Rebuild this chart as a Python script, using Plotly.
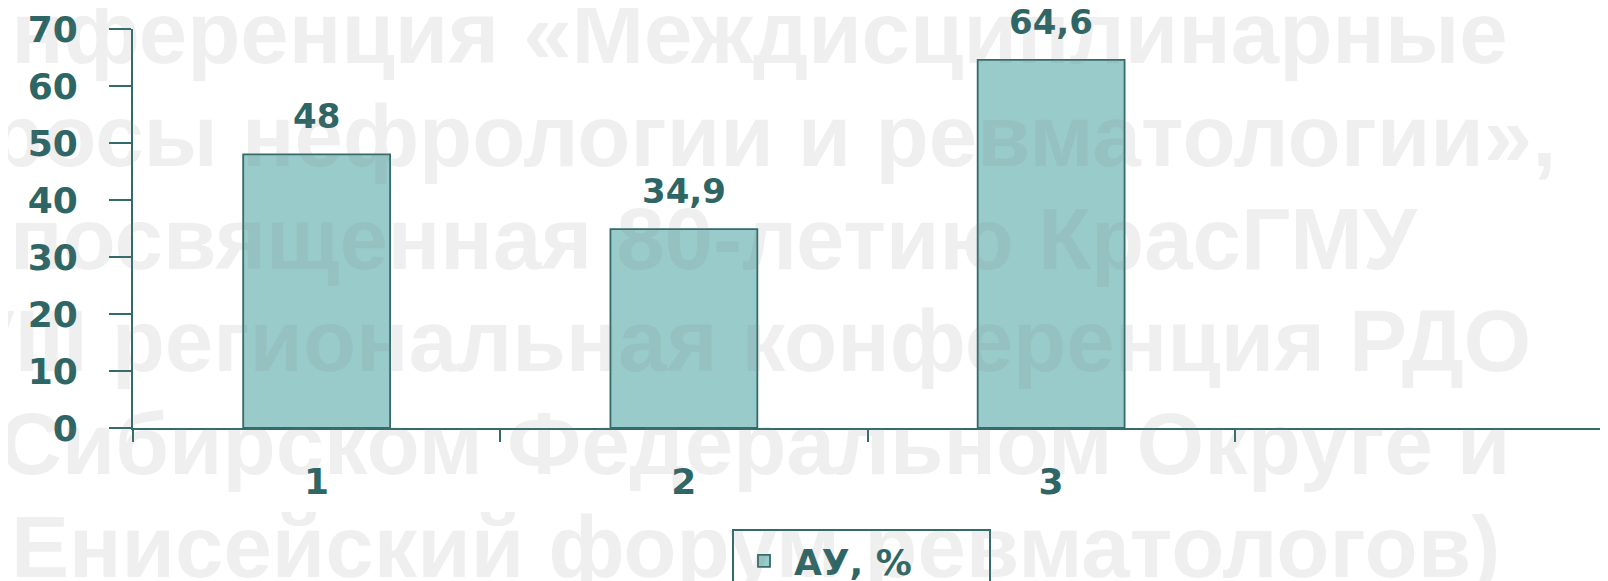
import plotly.graph_objects as go

categories = [1, 2, 3]
values = [48, 34.9, 64.6]
series_name = "АУ, %"
x_tick_labels = ["1", "2", "3"]
watermark_lines = [
    "Конференция «Междисциплинарные",
    "вопросы нефрологии и ревматологии»,",
    "посвященная 80-летию КрасГМУ",
    "VIII региональная конференция РДО",
    "Сибирском Федеральном Округе и",
    "Енисейский форум ревматологов)",
]

teal_dark = "#2E6565"
teal_line = "#336B6B"
bar_fill = "#9ACBCB"

# plot area in window pixels; the page body adds an 8px offset
L, R, T, B = 133, 1602, 29, 428
W, H = 1608, 581
OFF = 8


def px_x(p):
    return (p - L) / (R - L)


def px_y(p):
    return (B - p) / (B - T)


fig = go.Figure()
fig.add_trace(go.Bar(
    x=categories,
    y=values,
    name=series_name,
    marker=dict(color=bar_fill, line=dict(color=teal_line, width=1.8)),
    showlegend=True,
))

# data labels with a decimal comma
for x, v in zip(categories, values):
    fig.add_annotation(
        x=x, y=v, text=f"{v:g}".replace(".", ","),
        showarrow=False, yanchor="bottom", yshift=16,
        font=dict(family="DejaVu Sans", size=34, color=teal_dark, weight="bold"),
    )

# faint background caption
wm_right = [1510, 1558, 1420, 1533, 1512, 1502]
wm_base = [63, 166, 269, 371, 474, 577]
wm_size = 87
for line, xr, yb in zip(watermark_lines, wm_right, wm_base):
    fig.add_annotation(
        xref="paper", yref="paper",
        x=px_x(xr), y=px_y(yb - 0.3465 * wm_size),
        xanchor="right", yanchor="middle",
        text=line, showarrow=False,
        font=dict(family="Liberation Sans", size=wm_size,
                  color="rgba(120,120,120,0.12)", weight="bold"),
    )

fig.update_layout(
    width=W, height=H,
    margin=dict(l=L - OFF, r=W - R + OFF, t=T - OFF, b=H - B + OFF, autoexpand=False),
    plot_bgcolor="white",
    paper_bgcolor="white",
    bargap=0.6,
    showlegend=True,
    legend=dict(
        x=px_x(732), y=px_y(529), xanchor="left", yanchor="top",
        orientation="h", entrywidth=190, itemwidth=50,
        bordercolor=teal_line, borderwidth=2, bgcolor="rgba(0,0,0,0)",
        font=dict(family="DejaVu Sans", size=36, color=teal_dark, weight="bold"),
    ),
    xaxis=dict(
        range=[0.5, 4.5],
        tickvals=categories, ticktext=x_tick_labels,
        ticks="", showgrid=False, zeroline=False,
        showline=True, linecolor=teal_line, linewidth=2,
        ticklabelstandoff=21,
        tickfont=dict(family="DejaVu Sans", size=36, color=teal_dark, weight="bold"),
        minor=dict(ticks="outside", ticklen=12, tickwidth=2, tickcolor=teal_line,
                   tick0=0.5, dtick=1, showgrid=False),
    ),
    yaxis=dict(
        range=[0, 70], dtick=10,
        ticks="outside", ticklen=22, tickwidth=2, tickcolor=teal_line,
        showgrid=False, zeroline=False,
        showline=True, linecolor=teal_line, linewidth=2,
        ticklabelstandoff=24,
        tickfont=dict(family="DejaVu Sans", size=36, color=teal_dark, weight="bold"),
    ),
)

fig.write_html("out.html")
